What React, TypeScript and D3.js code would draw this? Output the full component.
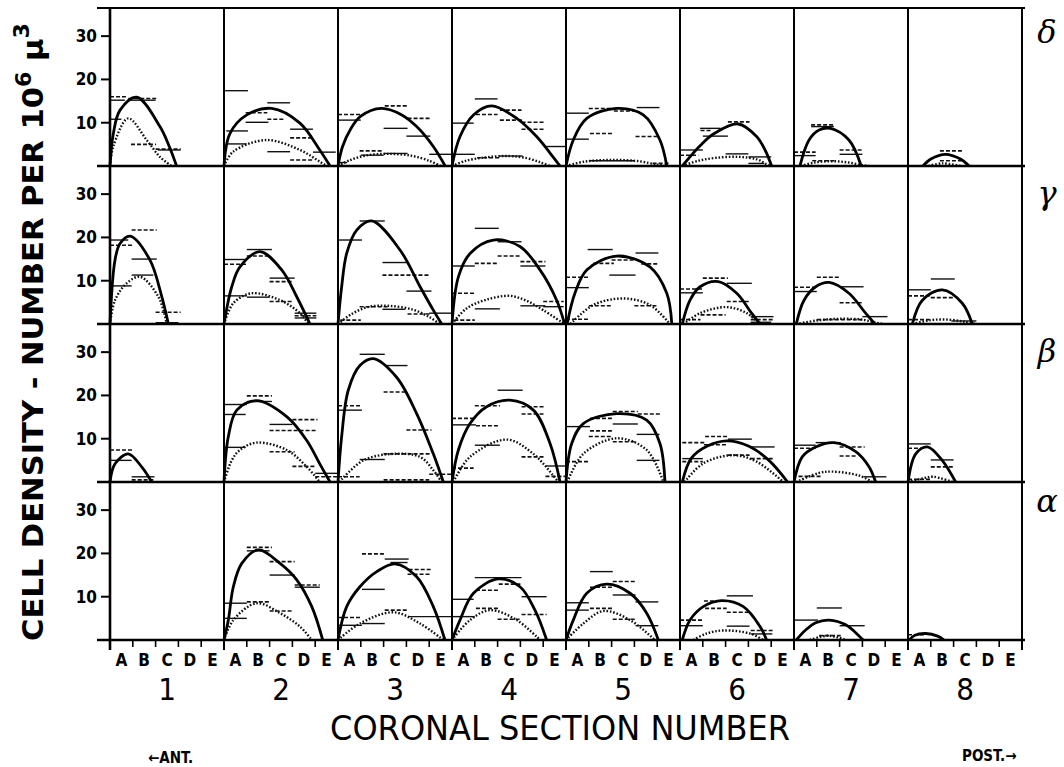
import * as d3 from "d3";

const W = 1064;
const H = 767;

const sections = ["1", "2", "3", "4", "5", "6", "7", "8"];
const positions = ["A", "B", "C", "D", "E"];
const cellTypes = ["δ", "γ", "β", "α"];
const yTicks = [10, 20, 30];
const Y_MAX = 36.5;

// curves: [position (0-5 across A..E), density]
const deltaSolid = [
  [[0, 0], [0.15, 7.6], [0.44, 12.9], [1.17, 15.9], [2.19, 9.1], [2.6, 4.5], [2.92, 0]],
  [[0, 0], [0.26, 7.5], [1.0, 11.8], [2.09, 13.3], [3.33, 9.9], [4.2, 3.7], [4.65, 0]],
  [[0, 0], [0.2, 4.5], [0.55, 8.5], [1.0, 11.5], [1.9, 13.3], [2.8, 11.8], [3.45, 9.1], [4.18, 4.5], [4.7, 0]],
  [[0, 0], [0.35, 6.8], [0.94, 11.8], [1.74, 13.9], [2.84, 11], [3.71, 6.8], [4.3, 3.0], [4.74, 0]],
  [[0, 0], [0.32, 6], [0.91, 11], [2.22, 13.3], [3.39, 11.8], [4.12, 6], [4.42, 0]],
  [[0.1, 0], [0.9, 4.8], [1.5, 7.5], [2.55, 9.7], [3.36, 6.8], [3.73, 3.7], [4.02, 0]],
  [[0.26, 0], [0.66, 6], [1.1, 8.3], [1.6, 8.7], [2.41, 6], [2.95, 0]],
  [[0.66, 0], [1.0, 1.6], [1.65, 2.7], [2.3, 1.6], [2.68, 0]],
];
const deltaDotted = [
  [[0, 0], [0.15, 4.6], [0.8, 11], [1.61, 6], [2.19, 2.1], [2.7, 0]],
  [[0, 0], [0.4, 3.3], [1.87, 6], [3.33, 3.7], [4.2, 1], [4.5, 0]],
  [[0, 0], [0.5, 1.3], [1.2, 2.4], [2.2, 2.8], [3.2, 2.4], [4.0, 1.2], [4.5, 0]],
  [[0, 0], [0.6, 1.2], [1.5, 2.0], [2.5, 2.3], [3.3, 1.8], [3.9, 0.8], [4.3, 0]],
  [[0, 0], [0.8, 1.0], [2.0, 1.4], [3.2, 1.1], [4.0, 0.3], [4.4, 0]],
  [[0.1, 0], [0.8, 1.2], [1.6, 1.9], [2.6, 2.1], [3.4, 1.5], [3.8, 0.4], [4.0, 0]],
  [[0.3, 0], [0.9, 0.8], [1.7, 1.1], [2.4, 0.8], [3.0, 0.2], [3.3, 0]],
  [[0.9, 0], [1.5, 0.6], [2.3, 0]],
];
// marks: [start position, width, density, set (0 solid / 1 broken)]
const deltaMarks = [
  [[0, 0.7, 16, 1], [0, 0.65, 15.2, 0], [0.8, 1.3, 15.6, 1], [0.9, 1.1, 15.2, 0], [0, 0.5, 10.8, 0], [0.92, 1.1, 5, 1], [2.0, 1.1, 3.9, 1], [2.1, 1.0, 3.7, 0]],
  [[0.05, 1.0, 17.4, 0], [0.1, 0.95, 8.1, 0], [0.1, 0.9, 5.1, 0], [0.95, 0.95, 12.3, 1], [0.95, 1.0, 10.1, 0], [1.9, 0.75, 10.8, 1], [1.9, 1.0, 3.3, 0], [1.9, 1.0, 14.6, 0], [2.9, 1.0, 8.5, 0], [2.9, 1.0, 6.5, 1], [2.9, 1.0, 1.4, 1], [3.9, 1.0, 3.2, 0]],
  [[0, 1.05, 11.9, 1], [0, 1.0, 10.6, 0], [2.05, 1.0, 13.9, 1], [2.0, 1.05, 8.7, 0], [3.05, 1.05, 11, 1], [3.0, 1.05, 6.9, 0], [0.95, 1.0, 3.5, 1], [1.0, 1.0, 2.5, 0], [2.0, 1.05, 2.9, 0], [4.0, 1.0, 2.7, 0], [0, 0.4, 0.8, 0]],
  [[1.0, 1.0, 15.5, 0], [1.05, 0.95, 11.9, 1], [2.1, 0.95, 12.9, 1], [2.1, 1.0, 10.6, 1], [3.05, 1.0, 10.1, 1], [3.05, 1.0, 8.5, 1], [4.1, 0.9, 4.5, 0], [0, 0.95, 9.9, 0], [0, 1.0, 2.7, 0], [1.1, 1.0, 1.9, 1], [2.1, 1.0, 2.3, 0]],
  [[0, 1.0, 12.2, 0], [0, 1.0, 6.2, 0], [1.05, 1.05, 7.5, 1], [1.0, 1.2, 13.3, 1], [3.1, 1.0, 13.5, 0], [2.1, 1.0, 12.7, 1], [3.05, 1.0, 6.8, 1], [1.0, 2.0, 1.2, 0], [3.8, 0.7, 0.6, 1]],
  [[0, 1.0, 3.7, 0], [0, 0.8, 2.5, 1], [2.1, 0.95, 10.2, 1], [0.88, 0.9, 8.7, 0], [1.0, 1.1, 6.9, 0], [0.9, 0.5, 8.2, 1], [2.0, 1.0, 2.8, 0], [3.0, 1.0, 2.1, 0], [3.0, 0.7, 0.6, 0]],
  [[0.75, 1.0, 9.5, 1], [0.75, 1.0, 9.1, 0], [0, 0.95, 3.2, 1], [0, 0.95, 2.4, 0], [2.0, 1.0, 3.7, 1], [2.0, 1.0, 2.7, 0], [0.8, 1.0, 1.2, 1]],
  [[1.4, 1.0, 3.5, 1], [1.4, 1.0, 1.2, 1]],
];

const gammaSolid = [
  [[0, 0], [0.22, 14.8], [0.44, 18.6], [0.88, 20.3], [1.75, 14.8], [2.27, 6.3], [2.56, 0]],
  [[0, 0], [0.34, 8.6], [0.7, 13.2], [1.58, 16.7], [2.53, 12.5], [3.19, 6.3], [3.77, 0]],
  [[0, 0], [0.16, 8.6], [0.38, 16.3], [0.82, 21.7], [1.48, 23.8], [2.72, 17.1], [3.6, 8.6], [4.18, 3.2], [4.55, 0]],
  [[0, 0], [0.28, 10.9], [0.79, 16.3], [1.81, 19.4], [2.98, 17.9], [3.86, 12.5], [4.59, 5.5], [4.94, 0]],
  [[0.05, 0], [0.39, 7.1], [0.91, 12.5], [2.22, 15.7], [3.68, 13.2], [4.42, 7.1], [4.64, 0]],
  [[0.1, 0], [0.44, 5.5], [0.88, 8.6], [1.68, 9.8], [2.49, 7.1], [3.14, 2.5], [3.51, 0]],
  [[0.1, 0], [0.44, 5.5], [0.95, 8.6], [1.54, 9.6], [2.41, 7.1], [3.14, 2.5], [3.55, 0]],
  [[0.19, 0], [0.63, 5.5], [1.51, 7.9], [2.38, 4.8], [2.82, 0]],
];
const gammaDotted = [
  [[0, 0], [0.22, 5.5], [0.73, 9.4], [1.32, 10.9], [2.12, 6.3], [2.49, 0]],
  [[0, 0], [0.41, 4.8], [1.21, 7.1], [2.46, 5.5], [3.33, 2.5], [3.7, 0]],
  [[0, 0], [0.6, 2.3], [1.3, 3.9], [2.2, 4.2], [3.3, 3.3], [4.0, 1.6], [4.47, 0]],
  [[0, 0], [0.64, 3.6], [1.5, 5.6], [2.54, 6.5], [3.3, 5.3], [4.0, 3.2], [4.94, 0]],
  [[0.2, 0], [1.2, 4.4], [2.51, 5.9], [3.68, 4.4], [4.56, 0]],
  [[0.15, 0], [0.88, 2.5], [2.05, 3.9], [2.93, 2.5], [3.5, 0]],
  [[0.1, 0], [1.0, 0.8], [2.0, 1.2], [3.0, 1.0], [3.6, 0.3], [3.9, 0]],
  [[0.2, 0], [1.0, 0.9], [1.8, 1.0], [2.5, 0.5], [3.0, 0]],
];
const gammaMarks = [
  [[0.95, 1.1, 21.7, 1], [0, 0.8, 19.4, 0], [0, 1.0, 18.2, 1], [0.95, 1.1, 15, 0], [0.95, 0.95, 11.3, 0], [0, 0.95, 8.8, 0], [2.0, 1.1, 2.7, 1], [2.0, 1.0, 0.3, 0]],
  [[1.0, 1.1, 17.2, 0], [1.0, 1.0, 15.7, 1], [0, 1.0, 14.9, 0], [0, 1.0, 13.8, 1], [2.0, 1.1, 10.6, 0], [2.0, 1.0, 9.8, 1], [0, 1.0, 6.5, 0], [1.0, 1.0, 6.2, 0], [2.0, 1.0, 5.2, 1], [3.1, 0.95, 2.5, 0], [3.1, 0.95, 1.9, 1], [3.1, 0.95, 1.4, 0]],
  [[0.95, 1.1, 23.8, 0], [0, 1.05, 19.4, 0], [1.95, 1.05, 14.2, 0], [1.95, 2.05, 11.3, 1], [3.0, 1.1, 7.6, 0], [0.95, 1.3, 4.0, 1], [1.95, 1.0, 3.4, 0], [4.0, 1.0, 2.5, 0], [0.1, 0.9, 0.9, 1], [3.05, 1.0, 2.3, 1]],
  [[1.0, 1.05, 22.1, 0], [2.0, 1.05, 19, 0], [2.0, 1.05, 15.7, 1], [0, 1.0, 13.4, 0], [1.0, 1.05, 14, 1], [3.0, 1.1, 14.4, 1], [3.0, 1.1, 13.4, 0], [0, 1.0, 7.1, 1], [1.0, 1.1, 3.5, 0], [3.0, 1.1, 4.2, 0], [4.0, 0.9, 5.2, 1], [4.0, 0.9, 4.0, 0], [0.1, 0.9, 0.9, 1]],
  [[0.95, 1.1, 17.2, 0], [3.05, 1.0, 16.4, 0], [1.2, 0.9, 14, 1], [2.0, 1.0, 14.8, 1], [3.3, 0.7, 13.9, 1], [1.9, 1.15, 11.3, 0], [0, 1.0, 10.8, 1], [0, 1.0, 8.4, 0], [1.0, 1.0, 4.2, 1], [3.0, 1.0, 4.2, 1], [0, 1.0, 1.1, 1]],
  [[1.0, 1.1, 10.6, 1], [2.05, 1.1, 9.4, 0], [0, 1.0, 8.1, 1], [0, 1.0, 7.2, 0], [2.05, 1.0, 5.2, 1], [0.9, 1.1, 2.1, 1], [3.1, 1.0, 1.7, 0], [3.1, 1.0, 1.0, 1], [3.1, 0.9, 0.4, 0], [0, 0.9, 1.0, 1]],
  [[1.0, 1.05, 10.8, 1], [2.05, 1.0, 8.6, 0], [0, 1.0, 8.5, 1], [0, 1.0, 7.5, 0], [2.0, 1.0, 4.9, 1], [3.0, 1.1, 1.7, 0], [1.0, 2.0, 1.0, 1]],
  [[1.0, 1.05, 10.4, 0], [0, 1.0, 7.9, 0], [0, 0.95, 6.5, 1], [1.0, 1.05, 6.1, 1], [0, 0.95, 1.0, 1], [1.9, 1.1, 0.7, 0]],
];

const betaSolid = [
  [[0, 0], [0.22, 4.2], [0.8, 6.5], [1.39, 3.5], [1.83, 0]],
  [[0, 0], [0.19, 10.5], [0.56, 16.6], [1.43, 18.8], [2.75, 15.1], [3.63, 9.6], [4.2, 4.2], [4.65, 0]],
  [[0, 0], [0.16, 10.5], [0.45, 21.2], [0.96, 26.9], [1.55, 28.5], [2.57, 24.2], [3.45, 15.8], [4.18, 6.5], [4.62, 0]],
  [[0, 0], [0.28, 7.4], [0.79, 13.5], [1.52, 17.4], [2.54, 18.9], [3.57, 16.6], [4.3, 8.9], [4.74, 0]],
  [[0, 0], [0.25, 8.9], [0.76, 13.5], [2.22, 15.8], [3.54, 14.3], [4.12, 8.9], [4.34, 0]],
  [[0.1, 0], [0.5, 5.5], [1.2, 8.3], [2.05, 9.5], [3.0, 8.3], [3.9, 5.0], [4.72, 0]],
  [[0, 0], [0.36, 5.8], [0.95, 8.1], [1.75, 9.1], [2.71, 7.0], [3.29, 3.5], [3.58, 0]],
  [[0, 0], [0.34, 6.5], [0.85, 8.1], [1.5, 5.0], [2.09, 0]],
];
const betaDotted = [
  [],
  [[0, 0], [0.34, 5], [0.7, 7.4], [1.43, 9.1], [2.75, 7.4], [3.63, 3.5], [4.2, 0]],
  [[0.06, 0], [1.11, 5], [2.43, 6.5], [3.6, 5.8], [4.18, 2.7], [4.55, 0]],
  [[0.06, 0], [0.79, 5.8], [2.4, 9.8], [3.57, 6.5], [4.66, 0]],
  [[0.06, 0], [0.76, 6.5], [2.22, 10.1], [3.54, 7.4], [4.27, 0]],
  [[0.2, 0], [1.02, 4.3], [2.34, 6.2], [3.36, 4.7], [4.53, 0]],
  [[0.1, 0], [1.1, 2.1], [1.68, 2.4], [2.85, 1.5], [3.43, 0]],
  [[0, 0], [0.63, 0.8], [1.1, 1.2], [1.95, 0]],
];
const betaMarks = [
  [[0, 1.0, 7.4, 1], [0, 0.95, 5.0, 0], [0.95, 1.0, 1.2, 0], [0.95, 0.95, 0.5, 1]],
  [[1.0, 1.1, 19.9, 1], [1.0, 1.1, 18.6, 0], [0, 1.0, 17.9, 0], [0, 0.95, 15.6, 0], [2.0, 1.0, 13.3, 0], [3.0, 1.1, 14.4, 1], [2.0, 2.1, 11.9, 1], [0, 0.95, 8, 0], [2.0, 1.1, 7, 1], [3.0, 1.0, 3.6, 1], [4.0, 1.0, 2, 0], [4.0, 1.0, 1.2, 1]],
  [[0.95, 1.1, 29.5, 0], [2.05, 1.0, 26.9, 0], [0, 1.05, 17.6, 1], [0, 1.05, 16.6, 0], [2.0, 1.05, 20.8, 1], [3.0, 1.1, 12.0, 1], [0.95, 1.1, 5.2, 0], [2.0, 2.05, 6.5, 1], [4.0, 1.0, 1.8, 1], [0, 0.95, 1.2, 1], [2.0, 2.0, 0.5, 1]],
  [[2.0, 1.1, 21.2, 0], [1.0, 1.1, 17.6, 1], [3.05, 1.05, 17.4, 1], [3.05, 1.0, 15.7, 1], [0, 1.05, 14.7, 1], [0, 1.05, 13.2, 0], [1.05, 1.05, 13.0, 1], [1.0, 1.1, 8.5, 0], [3.05, 1.0, 5.8, 1], [4.1, 0.95, 3.7, 0], [4.1, 0.95, 1.3, 1], [0, 0.95, 3.2, 1]],
  [[2.05, 1.1, 16.3, 1], [3.15, 1.0, 15.7, 1], [1.05, 1.0, 14.7, 1], [2.05, 1.1, 13.4, 0], [0, 1.05, 12.8, 0], [1.05, 1.0, 11.8, 1], [3.1, 1.0, 11, 0], [1.0, 1.0, 10.5, 1], [2.05, 1.0, 9.3, 1], [3.1, 1.0, 5, 0], [0, 1.0, 4.7, 1]],
  [[1.1, 1.0, 10.5, 1], [2.1, 1.05, 9.9, 0], [0.1, 1.0, 9.1, 1], [0.1, 0.9, 5.4, 0], [3.15, 1.0, 8.1, 0], [2.1, 0.95, 6.2, 1], [3.1, 1.0, 5.4, 1], [1.05, 1.0, 8.6, 1], [0.1, 0.9, 4.7, 1]],
  [[0.95, 1.1, 9.1, 0], [0, 0.95, 8.5, 0], [0, 0.95, 7.8, 1], [2.0, 1.1, 8.1, 1], [2.0, 0.75, 6, 1], [3.05, 1.0, 1.2, 0], [0.2, 1.0, 1.3, 1]],
  [[0, 1.0, 8.8, 0], [0, 0.7, 7.8, 1], [1.0, 1.0, 5.1, 0], [1.0, 1.0, 3.5, 1], [0, 1.0, 0.6, 1]],
];

const alphaSolid = [
  [],
  [[0, 0], [0.19, 4.6], [0.41, 12.3], [0.78, 17.7], [1.5, 20.8], [2.46, 17.7], [3.19, 13.9], [3.85, 7.7], [4.33, 0]],
  [[0, 0], [0.38, 7.7], [0.96, 12.3], [1.7, 15.8], [2.5, 17.6], [3.45, 14.6], [4.18, 7.7], [4.69, 0]],
  [[0, 0], [0.35, 4.6], [0.94, 10.8], [2.03, 14.1], [2.98, 12.3], [3.64, 6.9], [4.15, 0]],
  [[0, 0], [0.32, 4.6], [0.91, 10.8], [1.78, 12.9], [2.81, 10.8], [3.54, 6.2], [4.05, 0]],
  [[0.1, 0], [0.44, 4.6], [1.02, 7.7], [1.83, 9.1], [2.78, 7.7], [3.51, 3.1], [3.8, 0]],
  [[0.1, 0], [0.51, 2.3], [0.95, 4.0], [1.54, 4.6], [2.27, 3.5], [3.03, 0]],
  [[0.05, 0], [0.3, 1.1], [0.78, 1.5], [1.3, 0.9], [1.58, 0]],
];
const alphaDotted = [
  [],
  [[0, 0], [0.41, 4.6], [1.43, 8.5], [2.46, 6.2], [3.33, 3.1], [3.85, 0]],
  [[0, 0], [0.96, 3.8], [2.43, 6.4], [3.6, 3.8], [4.62, 0]],
  [[0, 0], [0.79, 4.6], [1.67, 6.9], [2.84, 4.6], [3.86, 0]],
  [[0, 0], [0.76, 3.8], [1.64, 6.7], [2.81, 4.6], [3.9, 0]],
  [[0.58, 0], [1.17, 1.5], [1.9, 2.2], [3.07, 1.5], [3.65, 0]],
  [[0.7, 0], [1.5, 1.0], [2.3, 0]],
  [],
];
const alphaMarks = [
  [],
  [[1.0, 1.1, 21.4, 1], [1.0, 1.0, 20.6, 0], [2.0, 1.1, 18.1, 1], [2.0, 1.1, 15, 0], [3.1, 1.1, 12.7, 1], [3.1, 1.1, 12.2, 0], [0, 1.0, 8.5, 0], [1.0, 1.0, 8.8, 1], [0, 1.0, 5, 0], [2.0, 1.0, 6.7, 1]],
  [[1.05, 1.0, 19.9, 1], [2.05, 1.05, 18.7, 0], [2.3, 0.75, 17.9, 0], [3.1, 1.0, 16.3, 1], [3.05, 1.05, 15.2, 1], [1.05, 1.0, 11.7, 0], [0, 1.05, 5.2, 1], [0, 1.05, 3.4, 0], [1.05, 1.0, 3.8, 0], [2.05, 1.05, 6.9, 1], [3.1, 1.9, 5.4, 0]],
  [[1.0, 2.05, 14.4, 0], [1.05, 1.0, 11.5, 1], [2.05, 0.95, 12.9, 1], [3.05, 1.1, 10, 0], [0, 0.95, 9.4, 0], [1.05, 1.0, 7.3, 1], [2.0, 1.0, 4.8, 1], [3.05, 1.1, 5.9, 1], [0, 1.0, 5.4, 0]],
  [[1.05, 1.0, 15.8, 0], [2.05, 1.0, 13.5, 1], [1.05, 1.0, 12.2, 1], [2.05, 1.0, 10.4, 0], [3.05, 1.0, 8.8, 0], [0, 1.0, 8.6, 0], [0, 1.0, 6.9, 0], [1.05, 1.0, 7.3, 1], [2.05, 1.0, 4.8, 1], [3.05, 1.0, 3.3, 0]],
  [[2.05, 1.15, 10.2, 0], [1.05, 1.0, 9.0, 1], [1.1, 0.95, 7.3, 1], [2.05, 1.0, 6.4, 1], [0, 1.0, 4.6, 1], [0, 1.0, 3.3, 0], [2.05, 1.0, 3.2, 0], [3.1, 1.0, 2.2, 1], [3.1, 0.95, 1.4, 0]],
  [[1.0, 1.1, 7.4, 0], [0, 1.05, 4.6, 0], [2.0, 1.1, 3.3, 0], [1.1, 0.95, 1.0, 1]],
  [[0, 0.7, 1.2, 1]],
];

const solidRows = [deltaSolid, gammaSolid, betaSolid, alphaSolid];
const dottedRows = [deltaDotted, gammaDotted, betaDotted, alphaDotted];
const markRows = [deltaMarks, gammaMarks, betaMarks, alphaMarks];

const LABEL_FONT = "'DejaVu Sans Condensed', 'Liberation Sans', sans-serif";

export default function App() {
  const left = 110;
  const right = 1022;
  const top = 8;
  const bottom = 640;

  const col = d3.scaleBand().domain(sections).range([left, right]);
  const row = d3.scaleBand().domain(cellTypes).range([top, bottom]);
  const cw = col.bandwidth();
  const rh = row.bandwidth();
  const xIn = d3.scaleLinear().domain([0, positions.length]).range([0, cw]);
  const yIn = d3.scaleLinear().domain([0, Y_MAX]).range([rh, 0]);

  const line = d3
    .line<number[]>()
    .x((d) => xIn(d[0]))
    .y((d) => yIn(d[1]))
    .curve(d3.curveCatmullRom.alpha(0.5));

  const colEdges = [...sections.map((s) => col(s) as number), right];
  const rowEdges = [...cellTypes.map((t) => row(t) as number), bottom];

  return (
    <svg
      width={W}
      height={H}
      style={{ position: "absolute", left: 0, top: 0, background: "#fff" }}
    >
      <defs>
        <clipPath id="cellclip">
          <rect x={-2} y={0} width={cw + 4} height={rh} />
        </clipPath>
      </defs>

      {/* cells */}
      {cellTypes.map((t, ri) =>
        sections.map((s, ci) => {
          const solid = solidRows[ri][ci];
          const dotted = dottedRows[ri][ci];
          const marks = markRows[ri][ci];
          return (
            <g key={t + s} transform={`translate(${col(s)},${row(t)})`}>
              <g clipPath="url(#cellclip)">
                {marks.map((m, i) => (
                  <line
                    key={i}
                    x1={xIn(m[0])}
                    x2={xIn(m[0] + m[1])}
                    y1={yIn(m[2])}
                    y2={yIn(m[2])}
                    stroke="#111"
                    strokeWidth={m[3] ? 1.6 : 1.4}
                    strokeDasharray={m[3] ? "4 2" : undefined}
                  />
                ))}
                {dotted.length > 0 && (
                  <path
                    d={line(dotted as number[][]) || ""}
                    fill="none"
                    stroke="#111"
                    strokeWidth={2.4}
                    strokeDasharray="1.6 1.8"
                  />
                )}
                {solid.length > 0 && (
                  <path
                    d={line(solid as number[][]) || ""}
                    fill="none"
                    stroke="#000"
                    strokeWidth={2.8}
                  />
                )}
              </g>
            </g>
          );
        })
      )}

      {/* frame */}
      {colEdges.map((x, i) => (
        <line
          key={"v" + i}
          x1={x}
          x2={x}
          y1={top}
          y2={bottom + 10}
          stroke="#000"
          strokeWidth={i === 0 ? 2.6 : 2}
        />
      ))}
      {rowEdges.map((y, i) => (
        <line
          key={"h" + i}
          x1={left - 13}
          x2={right + 3}
          y1={y}
          y2={y}
          stroke="#000"
          strokeWidth={i === 0 ? 2 : 2.6}
        />
      ))}

      {/* y ticks */}
      {cellTypes.map((t) =>
        yTicks.map((v) => {
          const y = (row(t) as number) + yIn(v);
          return (
            <g key={t + v}>
              <line x1={left - 9} x2={left} y1={y} y2={y} stroke="#000" strokeWidth={2} />
              <text
                x={left - 13}
                y={y + 6}
                textAnchor="end"
                fontFamily={LABEL_FONT}
                fontWeight="bold"
                fontSize={17}
              >
                {v}
              </text>
            </g>
          );
        })
      )}

      {/* x ticks and position letters */}
      {sections.map((s) =>
        positions.map((p, i) => (
          <g key={s + p}>
            {i > 0 && (
              <line
                x1={(col(s) as number) + xIn(i)}
                x2={(col(s) as number) + xIn(i)}
                y1={bottom}
                y2={bottom + 7}
                stroke="#000"
                strokeWidth={1.6}
              />
            )}
            <text
              x={(col(s) as number) + xIn(i + 0.5)}
              y={666}
              textAnchor="middle"
              fontFamily={LABEL_FONT}
              fontWeight="bold"
              fontSize={17}
            >
              {p}
            </text>
          </g>
        ))
      )}

      {/* section numbers */}
      {sections.map((s) => (
        <text
          key={"n" + s}
          x={(col(s) as number) + cw / 2}
          y={700}
          textAnchor="middle"
          fontFamily={LABEL_FONT}
          fontSize={31}
        >
          {s}
        </text>
      ))}

      <text
        x={560}
        y={740}
        textAnchor="middle"
        fontFamily={LABEL_FONT}
        fontSize={33}
        textLength={460}
        lengthAdjust="spacingAndGlyphs"
      >
        CORONAL SECTION NUMBER
      </text>

      <text x={148} y={763} fontFamily={LABEL_FONT} fontWeight="bold" fontSize={15}>
        ←ANT.
      </text>
      <text x={962} y={761} fontFamily={LABEL_FONT} fontWeight="bold" fontSize={15}>
        POST.→
      </text>

      {/* y axis title */}
      <text
        transform={`translate(43,${332}) rotate(-90)`}
        textAnchor="middle"
        fontFamily="'DejaVu Sans', sans-serif"
        fontWeight="bold"
        fontSize={29}
        textLength={618}
        lengthAdjust="spacingAndGlyphs"
      >
        CELL DENSITY - NUMBER PER 10
        <tspan dy={-12} fontSize={21}>6</tspan>
        <tspan dy={12}> μ</tspan>
        <tspan dy={-14} fontSize={21}>3</tspan>
      </text>

      {/* cell type labels */}
      {cellTypes.map((t) => (
        <text
          key={"g" + t}
          x={1047}
          y={(row(t) as number) + (t === "δ" ? 35 : t === "α" ? 30 : 38)}
          textAnchor="middle"
          fontFamily="'DejaVu Serif', serif"
          fontStyle="italic"
          fontSize={32}
        >
          {t}
        </text>
      ))}
    </svg>
  );
}
